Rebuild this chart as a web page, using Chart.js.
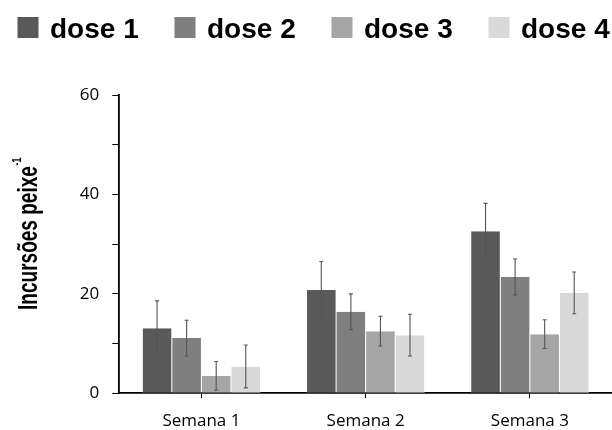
<!DOCTYPE html>
<html lang="pt">
<head>
  <meta charset="UTF-8">
  <title>Incursões por peixe</title>
  <script src="https://cdn.jsdelivr.net/npm/chart.js"></script>
  <style>
    body { margin: 0; background: #fff; }
    canvas { display: block; }
  </style>
</head>
<body>

  <canvas id="incursoesChart" width="612" height="430"></canvas>

  <script>
    const semanas = ['Semana 1', 'Semana 2', 'Semana 3'];
    const doses = ['dose 1', 'dose 2', 'dose 3', 'dose 4'];

    // mean incursions per fish and standard error, one array per dose
    const dose1 = [13.1, 20.8, 32.6];
    const dose2 = [11.1, 16.4, 23.4];
    const dose3 = [3.5, 12.5, 11.9];
    const dose4 = [5.4, 11.7, 20.2];
    const erro1 = [5.5, 5.7, 5.6];
    const erro2 = [3.6, 3.6, 3.6];
    const erro3 = [2.9, 3.0, 2.9];
    const erro4 = [4.3, 4.2, 4.2];

    const yTicks = [0, 20, 40, 60];

    const cores = ['#595959', '#7f7f7f', '#a5a5a5', '#d9d9d9'];
    const valores = [dose1, dose2, dose3, dose4];
    const erros = [erro1, erro2, erro3, erro4];

    const datasets = doses.map((nome, i) => ({
      label: nome,
      data: valores[i],
      erro: erros[i],
      backgroundColor: cores[i],
      borderColor: '#ffffff',
      borderWidth: { top: 0, left: 0.5, right: 0.5, bottom: 0 },
      categoryPercentage: 0.72,
      barPercentage: 1.0
    }));

    // whiskers drawn on top of each bar
    const errorBars = {
      id: 'errorBars',
      afterDatasetsDraw(chart) {
        const ctx = chart.ctx;
        const y = chart.scales.y;
        ctx.save();
        ctx.strokeStyle = '#555555';
        ctx.lineWidth = 1.1;
        chart.data.datasets.forEach((ds, i) => {
          chart.getDatasetMeta(i).data.forEach((bar, j) => {
            const v = ds.data[j], e = ds.erro[j];
            const top = y.getPixelForValue(v + e);
            const bot = y.getPixelForValue(Math.max(0, v - e));
            ctx.beginPath();
            ctx.moveTo(bar.x, top); ctx.lineTo(bar.x, bot);
            ctx.moveTo(bar.x - 2, top); ctx.lineTo(bar.x + 2, top);
            ctx.moveTo(bar.x - 2, bot); ctx.lineTo(bar.x + 2, bot);
            ctx.stroke();
          });
        });
        ctx.restore();
      }
    };

    // legend row across the top and the rotated y title
    const decor = {
      id: 'decor',
      afterDraw(chart) {
        const ctx = chart.ctx;
        ctx.save();
        ctx.font = 'bold 28px "Liberation Sans", Arial, sans-serif';
        ctx.textBaseline = 'alphabetic';
        let x = 17.5;
        chart.data.datasets.forEach(ds => {
          ctx.fillStyle = ds.backgroundColor;
          ctx.fillRect(x, 17, 21, 21);
          ctx.fillStyle = '#000';
          ctx.fillText(ds.label, x + 32.5, 38);
          x += 157;
        });

        // condensed title, read bottom to top
        ctx.translate(36.7, 310);
        ctx.rotate(-Math.PI / 2);
        ctx.scale(0.68, 1);
        ctx.font = 'bold 28px "Liberation Sans", Arial, sans-serif';
        const titulo = 'Incursões peixe';
        ctx.fillText(titulo, 0, 0);
        const w = ctx.measureText(titulo).width;
        ctx.font = 'bold 13px "Liberation Sans", Arial, sans-serif';
        ctx.fillText('-1', w + 1, -15.5);
        ctx.restore();
      }
    };

    const tickFont = { family: '"Open Sans", sans-serif', size: 17 };

    new Chart(document.getElementById('incursoesChart'), {
      type: 'bar',
      data: { labels: semanas, datasets: datasets },
      options: {
        responsive: false,
        animation: false,
        devicePixelRatio: 1,
        layout: { padding: { top: 95, left: 0, right: 0, bottom: 0 } },
        plugins: {
          legend: { display: false },
          tooltip: { enabled: false }
        },
        scales: {
          x: {
            afterFit: s => { s.height = 36.7; },
            grid: { offset: false, drawOnChartArea: false, tickLength: 5, color: '#000', lineWidth: 1 },
            border: { color: '#000', width: 1.8 },
            ticks: { color: '#000', font: tickFont, padding: 13 }
          },
          y: {
            min: 0,
            max: 60,
            afterFit: s => { s.width = 119.3; },
            grid: { drawOnChartArea: false, tickLength: 7, color: '#000', lineWidth: 1 },
            border: { color: '#000', width: 1.8 },
            ticks: {
              stepSize: 10,
              color: '#000',
              font: tickFont,
              padding: 13,
              callback: v => yTicks.includes(v) ? v : ''
            }
          }
        }
      },
      plugins: [errorBars, decor]
    });
  </script>

</body>
</html>
